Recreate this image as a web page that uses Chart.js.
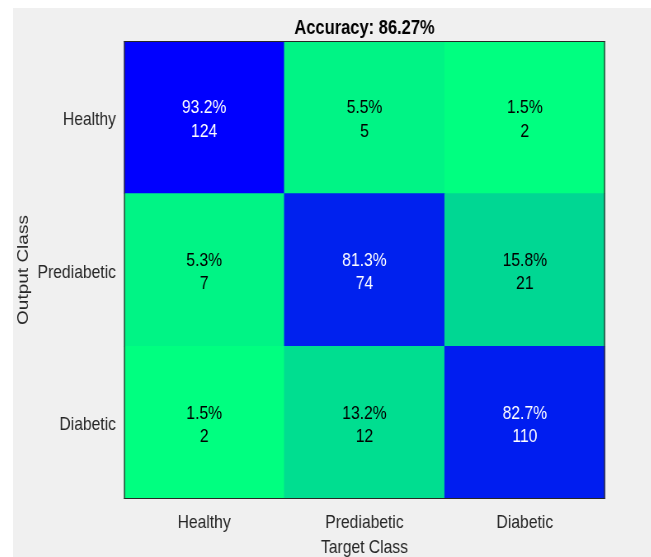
<!DOCTYPE html>
<html>
<head>
<meta charset="utf-8">
<script src="https://cdn.jsdelivr.net/npm/chart.js@4.4.0/dist/chart.umd.min.js"></script>
<style>
  html, body { margin: 0; padding: 0; background: #ffffff; overflow: hidden; }
  #fondo { position: absolute; left: 13px; top: 8px; width: 638px; height: 549px; background: #f0f0f0; overflow: hidden; }
  /* la figura original esta comprimida en horizontal */
  canvas { display: block; transform: scaleX(0.825); transform-origin: 0 0; }
</style>
</head>
<body>
<div id="fondo"><canvas id="matriz" width="774" height="549"></canvas></div>
<script>
// Clases de la matriz de confusion
const targetClasses = ['Healthy', 'Prediabetic', 'Diabetic'];
const outputClasses = ['Healthy', 'Prediabetic', 'Diabetic'];

// Conteos por fila (Output Class), columnas = Target Class
const countsHealthy = [124, 5, 2];
const countsPrediabetic = [7, 74, 21];
const countsDiabetic = [2, 12, 110];

// Porcentajes por fila (normalizados por columna)
const pctHealthy = [93.2, 5.5, 1.5];
const pctPrediabetic = [5.3, 81.3, 15.8];
const pctDiabetic = [1.5, 13.2, 82.7];

const accuracy = 86.27;

const allCounts = [countsHealthy, countsPrediabetic, countsDiabetic];
const allPct = [pctHealthy, pctPrediabetic, pctDiabetic];

// Escala horizontal aplicada al canvas
const escalaX = 0.825;

// Mapa de color tipo "winter": azul (alto) -> verde (bajo)
const flatPct = allPct.flat();
const maxP = Math.max(...flatPct);
const minP = Math.min(...flatPct);
function colorDe(p) {
	let t = (maxP - p) / (maxP - minP);
	return 'rgb(0,' + Math.round(255 * t) + ',' + Math.round(255 * (1 - t / 2)) + ')';
}
function oscuro(p) {
	return (maxP - p) / (maxP - minP) < 0.5;
}

// Cada dataset es una fila; se apilan de abajo (Diabetic) hacia arriba (Healthy)
const datasets = [];
for (let r = outputClasses.length - 1; r >= 0; r--) {
	datasets.push({
		label: outputClasses[r],
		data: allCounts[r].map(() => 1),
		counts: allCounts[r],
		pct: allPct[r],
		backgroundColor: allPct[r].map(colorDe),
		borderWidth: 0,
		categoryPercentage: 1,
		barPercentage: 1
	});
}

const fuente = '"Liberation Sans", Arial, Helvetica, sans-serif';

// Plugin para escribir los textos de cada celda y el marco
const textosCeldas = {
	id: 'textosCeldas',
	afterDatasetsDraw(chart) {
		const ctx = chart.ctx;
		ctx.save();
		ctx.font = '19px ' + fuente;
		ctx.textAlign = 'center';
		ctx.textBaseline = 'middle';
		chart.data.datasets.forEach((ds, i) => {
			chart.getDatasetMeta(i).data.forEach((bar, j) => {
				let cy = (bar.y + bar.base) / 2;
				ctx.fillStyle = oscuro(ds.pct[j]) ? '#ffffff' : '#000000';
				ctx.fillText(ds.pct[j].toFixed(1) + '%', bar.x, cy - 9.1);
				ctx.fillText(String(ds.counts[j]), bar.x, cy + 14.2);
			});
		});
		// marco del area de la grafica (1 px en pantalla)
		const a = chart.chartArea;
		const px = 1 / escalaX;
		ctx.fillStyle = '#262626';
		ctx.fillRect(a.left, a.top, a.right - a.left, 1);
		ctx.fillRect(a.left, a.bottom - 1, a.right - a.left, 1);
		ctx.fillRect(a.left, a.top, px, a.bottom - a.top);
		ctx.fillRect(a.right - px, a.top, px, a.bottom - a.top);
		ctx.restore();
	}
};

const grafica = new Chart(document.getElementById('matriz'), {
	type: 'bar',
	data: { labels: targetClasses, datasets: datasets },
	plugins: [textosCeldas],
	options: {
		responsive: false,
		animation: false,
		layout: { padding: { left: 0, right: 774 - 592 / escalaX, top: 0, bottom: 0 } },
		plugins: {
			legend: { display: false },
			tooltip: { enabled: false },
			title: {
				display: true,
				text: 'Accuracy: ' + accuracy.toFixed(2) + '%',
				fullSize: false,
				color: '#000000',
				font: { family: fuente, size: 20, weight: 'bold' },
				padding: { top: 8.3, bottom: 0.7 }
			}
		},
		scales: {
			x: {
				stacked: true,
				grid: { display: false, drawTicks: false },
				border: { display: false },
				ticks: { color: '#262626', font: { family: fuente, size: 19 }, padding: 12 },
				title: {
					display: true,
					text: 'Target Class',
					color: '#262626',
					font: { family: fuente, size: 19, lineHeight: 1 },
					padding: { top: 0, bottom: 0 }
				},
				afterFit(scale) { scale.height = 58; }
			},
			y: {
				stacked: true,
				min: 0,
				max: 3,
				grid: { display: false, drawTicks: false },
				border: { display: false },
				afterBuildTicks(scale) {
					scale.ticks = [0.5, 1.5, 2.5].map(v => ({ value: v }));
				},
				ticks: {
					color: '#262626',
					font: { family: fuente, size: 19 },
					padding: 8 / escalaX,
					labelOffset: 2.5,
					callback: (v) => outputClasses[outputClasses.length - 1 - Math.floor(v)]
				},
				title: {
					display: true,
					text: 'Output Class',
					color: '#262626',
					font: { family: fuente, size: 19 },
					padding: { top: 1.5, bottom: 0 }
				},
				afterFit(scale) { scale.width = 111 / escalaX; }
			}
		}
	}
});
</script>
</body>
</html>
